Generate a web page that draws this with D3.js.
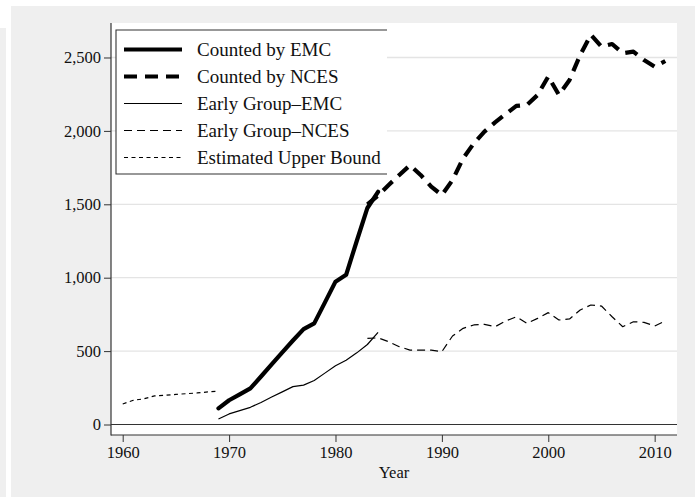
<!DOCTYPE html>
<html><head><meta charset="utf-8">
<script src="https://cdn.jsdelivr.net/npm/d3@7"></script>
<style>body{margin:0;background:#fff}svg{display:block}</style>
</head><body>
<svg id="c" width="695" height="497"></svg>
<script>
// ---- data ----
const boundYears = [1960,1961,1962,1963,1964,1965,1966,1967,1968,1969];
const upperBound = [140,165,175,195,200,205,210,215,222,228];

const emcYears = [1969,1970,1971,1972,1973,1974,1975,1976,1977,1978,1979,1980,1981,1982,1983,1984];
const countedEMC = [110,165,205,246,327,410,492,572,650,689,830,973,1020,1250,1475,1585];
const earlyEMC = [37,72,95,117,150,187,222,258,268,300,350,400,438,488,545,628];

const ncesYears = [1983,1984,1985,1986,1987,1988,1989,1990,1991,1992,1993,1994,1995,1996,1997,1998,1999,2000,2001,2002,2003,2004,2005,2006,2007,2008,2009,2010,2011];
const countedNCES = [1500,1560,1632,1700,1766,1700,1620,1563,1665,1813,1915,1995,2058,2115,2170,2177,2245,2370,2245,2347,2517,2655,2574,2592,2529,2540,2483,2437,2476];
const earlyNCES = [587,590,564,530,507,507,507,496,603,655,678,682,666,705,734,689,723,762,712,719,780,814,807,734,666,700,696,671,705];

const yTicks = [0,500,1000,1500,2000,2500];
const xTicks = [1960,1970,1980,1990,2000,2010];
const legendLabels = ["Counted by EMC","Counted by NCES","Early Group\u2013EMC","Early Group\u2013NCES","Estimated Upper Bound"];

// ---- layout ----
const svg = d3.select("#c");
const font = "'Liberation Serif','Times New Roman',serif";
const L = 111, R = 677, T = 23, B = 435;

svg.append("rect").attr("x",0).attr("y",0).attr("width",695).attr("height",497).attr("fill","#ffffff");
svg.append("rect").attr("x",0).attr("y",28).attr("width",6).attr("height",469).attr("fill","#efefef");
svg.append("rect").attr("x",11).attr("y",6).attr("width",684).attr("height",491).attr("fill","#efefef");
svg.append("rect").attr("x",L).attr("y",T).attr("width",R-L).attr("height",B-T).attr("fill","#ffffff");

const x = d3.scaleLinear().domain([1958.9,2012.1]).range([L,R]);
const y = d3.scaleLinear().domain([-71.5,2735]).range([B,T]);

// gridlines
svg.append("g").selectAll("line").data(yTicks.filter(d=>d>0)).join("line")
  .attr("x1",L).attr("x2",R).attr("y1",d=>y(d)).attr("y2",d=>y(d))
  .attr("stroke","#e4e4e4").attr("stroke-width",1.3);
// zero line
svg.append("line").attr("x1",L).attr("x2",R).attr("y1",y(0)).attr("y2",y(0))
  .attr("stroke","#333").attr("stroke-width",1.2);

// axes
const yAxis = svg.append("g").attr("transform",`translate(${L},0)`)
  .call(d3.axisLeft(y).tickValues(yTicks).tickSize(7).tickPadding(3).tickFormat(d3.format(",")));
const xAxis = svg.append("g").attr("transform",`translate(0,${B})`)
  .call(d3.axisBottom(x).tickValues(xTicks).tickSize(7).tickPadding(4).tickFormat(d3.format("d")));
[yAxis,xAxis].forEach(g=>{
  g.select(".domain").remove();
  g.selectAll(".tick line").attr("stroke","#333").attr("stroke-width",1);
  g.selectAll("text").attr("font-family",font).attr("font-size",16.5).attr("fill","#111");
});
svg.append("line").attr("x1",L).attr("x2",L).attr("y1",T).attr("y2",B+0.5).attr("stroke","#333").attr("stroke-width",1.2);
svg.append("line").attr("x1",L).attr("x2",R).attr("y1",B).attr("y2",B).attr("stroke","#333").attr("stroke-width",1.2);

svg.append("text").attr("x",(L+R)/2).attr("y",477.5).attr("text-anchor","middle")
  .attr("font-family",font).attr("font-size",16.5).attr("fill","#111").text("Year");

// series
const line = d3.line().x(d=>x(d[0])).y(d=>y(d[1]));
const styles = [
  {w:4.2, dash:null, cap:"round"},
  {w:4.2, dash:"13,8", cap:"butt"},
  {w:1.2, dash:null, cap:"butt"},
  {w:1.2, dash:"8,5", cap:"butt"},
  {w:1.2, dash:"4,3.5", cap:"butt"}
];
const series = [
  d3.zip(emcYears,countedEMC),
  d3.zip(ncesYears,countedNCES),
  d3.zip(emcYears,earlyEMC),
  d3.zip(ncesYears,earlyNCES),
  d3.zip(boundYears,upperBound)
];
const order = [4,2,3,0,1];
order.forEach(i=>{
  const s = styles[i];
  svg.append("path").attr("d",line(series[i])).attr("fill","none").attr("stroke","#000")
    .attr("stroke-width",s.w).attr("stroke-dasharray",s.dash).attr("stroke-linecap",s.cap)
    .attr("stroke-linejoin","round");
});

// legend
const lg = svg.append("g");
const lx0 = 116, lx1 = 387, ly0 = 30, ly1 = 174;
lg.append("rect").attr("x",lx0).attr("y",ly0).attr("width",lx1-lx0).attr("height",ly1-ly0).attr("fill","#fff");
lg.append("path").attr("d",`M${lx1},${ly0}H${lx0}V${ly1}H${lx1}`).attr("fill","none").attr("stroke","#333").attr("stroke-width",1.1);
legendLabels.forEach((t,i)=>{
  const base = 56 + i*27;
  const s = styles[i];
  lg.append("line").attr("x1",124).attr("x2",182).attr("y1",base-6.5).attr("y2",base-6.5)
    .attr("stroke","#000").attr("stroke-width",s.w).attr("stroke-dasharray",s.dash);
  lg.append("text").attr("x",197).attr("y",base).attr("font-family",font).attr("font-size",19)
    .attr("fill","#111").text(t);
});
</script>
</body></html>
